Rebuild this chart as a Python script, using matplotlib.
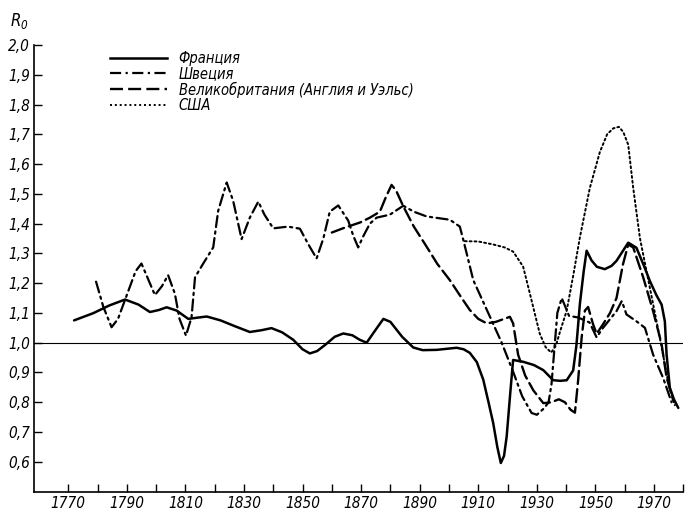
import matplotlib
matplotlib.use("Agg")
import matplotlib.pyplot as plt
from matplotlib.lines import Line2D
from matplotlib.ticker import FixedLocator, FuncFormatter
from matplotlib import font_manager

# Ro values
france_years = [1772, 1778.5, 1784, 1789.4, 1794, 1797.9, 1801, 1803.6, 1807, 1811, 1814, 1817.3,
                1822, 1827, 1832, 1836, 1839.4, 1843, 1846.8, 1850, 1852.5, 1855, 1858, 1861, 1863.9,
                1867, 1869.5, 1871.9, 1874, 1877.6, 1880, 1884, 1887.8, 1891, 1895.8, 1902.6, 1905,
                1907.1, 1909.5, 1911.7, 1913.5, 1915.1, 1916.5, 1917.7, 1918.8, 1919.7, 1921, 1921.9,
                1925.3, 1929, 1932.2, 1935.6, 1938, 1940.2, 1942.4, 1943.5, 1944.7, 1946, 1947, 1948.7,
                1950.5, 1953.2, 1955.5, 1957.2, 1959.5, 1961.2, 1964, 1966.5, 1968.6, 1970.8, 1972.6,
                1973.7, 1974.3, 1975.4, 1976.8, 1978.3]
france_vals = [1.075, 1.099, 1.125, 1.145, 1.128, 1.103, 1.11, 1.119, 1.108, 1.080, 1.084, 1.088,
               1.075, 1.055, 1.036, 1.042, 1.049, 1.035, 1.010, 0.978, 0.964, 0.972, 0.995, 1.02, 1.031,
               1.025, 1.01, 1.000, 1.03, 1.080, 1.07, 1.02, 0.984, 0.975, 0.976, 0.983, 0.978,
               0.966, 0.935, 0.876, 0.80, 0.730, 0.65, 0.596, 0.62, 0.685, 0.84, 0.942,
               0.936, 0.925, 0.908, 0.874, 0.872, 0.874, 0.907, 0.99, 1.131, 1.24, 1.309, 1.276,
               1.255, 1.247, 1.258, 1.275, 1.31, 1.336, 1.319, 1.26, 1.207, 1.16, 1.128,
               1.072, 0.960, 0.849, 0.81, 0.781]

sweden_years = [1779.5, 1782, 1784.8, 1787, 1790, 1793, 1795, 1797, 1799.6, 1802, 1804.1, 1806.4,
                1808, 1810.2, 1812.1, 1813.3, 1816.1, 1819.5, 1821.2, 1824.1, 1826.3, 1829.2, 1832,
                1834.9, 1837, 1840, 1845, 1849.1, 1852, 1854.8, 1857.1, 1859.3, 1862.2, 1865.6,
                1867.3, 1869, 1870.7, 1873, 1875.3, 1879.8, 1884.4, 1888, 1892.4, 1900.3, 1903.7,
                1904.9, 1908.3, 1914, 1918, 1922, 1925, 1928.2, 1930, 1932.5, 1934, 1935, 1936,
                1937, 1938.5, 1941, 1944, 1948, 1950.4, 1952.6, 1957.2, 1959, 1960.6, 1964, 1966.9,
                1969.7, 1973.1, 1976]
sweden_vals = [1.205, 1.12, 1.052, 1.08, 1.16, 1.24, 1.266, 1.22, 1.16, 1.19, 1.227, 1.165,
               1.08, 1.024, 1.085, 1.22, 1.266, 1.32, 1.443, 1.538, 1.477, 1.348, 1.42,
               1.474, 1.43, 1.384, 1.39, 1.383, 1.33, 1.283, 1.35, 1.44, 1.461, 1.41,
               1.36, 1.32, 1.357, 1.40, 1.42, 1.43, 1.46, 1.44, 1.424, 1.413, 1.39,
               1.345, 1.21, 1.087, 1.0, 0.90, 0.82, 0.764, 0.758, 0.78, 0.80, 0.86, 0.98,
               1.10, 1.15, 1.09, 1.085, 1.068, 1.018, 1.05, 1.106, 1.14, 1.095, 1.072, 1.05,
               0.96, 0.882, 0.80]

britain_years = [1860, 1864, 1867, 1869.7, 1873, 1876.4, 1878.5, 1880.4, 1882, 1884.4, 1888, 1892.4,
                 1896, 1900.3, 1904, 1907.1, 1910, 1912.9, 1916, 1920.8, 1921.9, 1923.6, 1926,
                 1928.8, 1932.2, 1935, 1937.5, 1939.6, 1941.5, 1943, 1944.1, 1945.3, 1946.4, 1947.5,
                 1949.2, 1950.4, 1952.6, 1955, 1957.2, 1959.4, 1961.2, 1962.9, 1966.3, 1969.7, 1972.6,
                 1974.3, 1976.6]
britain_vals = [1.37, 1.385, 1.395, 1.404, 1.42, 1.44, 1.49, 1.53, 1.51, 1.458, 1.39, 1.322,
                1.265, 1.21, 1.155, 1.11, 1.08, 1.065, 1.07, 1.087, 1.065, 0.96, 0.89,
                0.84, 0.797, 0.80, 0.81, 0.80, 0.775, 0.765, 0.874, 1.018, 1.108, 1.12,
                1.062, 1.03, 1.062, 1.10, 1.15, 1.263, 1.33, 1.32, 1.22, 1.106, 0.995,
                0.883, 0.805]

usa_years = [1905.4, 1910, 1915.1, 1919, 1921.9, 1925.3, 1927.6, 1931, 1933, 1934.9, 1936.5, 1938,
             1940.2, 1942.5, 1944.7, 1948.1, 1951.5, 1954, 1956.1, 1958, 1959.5, 1961.2, 1962.9,
             1965.2, 1968.6, 1972, 1974.8, 1977.1]
usa_vals = [1.341, 1.34, 1.33, 1.32, 1.306, 1.256, 1.166, 1.03, 0.985, 0.967, 0.99, 1.04,
            1.108, 1.23, 1.354, 1.52, 1.64, 1.70, 1.72, 1.725, 1.708, 1.665, 1.52,
            1.351, 1.184, 1.016, 0.87, 0.79]

labels = ["Франция", "Швеция", "Великобритания (Англия и Уэльс)", "США"]
year_ticks = list(range(1770, 1971, 20))
y_ticks = [0.6, 0.7, 0.8, 0.9, 1.0, 1.1, 1.2, 1.3, 1.4, 1.5, 1.6, 1.7, 1.8, 1.9, 2.0]

# condensed italic face if there is one, plain DejaVu otherwise
names = {f.name for f in font_manager.fontManager.ttflist}
fam = ["DejaVu Sans"]
for cand in ["Liberation Sans Narrow", "DejaVu Sans Condensed"]:
    if cand in names:
        fam = [cand, "DejaVu Sans"]
        break
plt.rcParams["font.family"] = fam
plt.rcParams["font.style"] = "italic"
plt.rcParams["font.stretch"] = "condensed"

fig = plt.figure(figsize=(6.85, 5.11), dpi=100)
ax = fig.add_axes([0.050, 0.038, 0.9475, 0.874])

styles = [
    dict(color="black", lw=1.8, linestyle="-"),
    dict(color="black", lw=1.6, linestyle=(0, (5, 2, 1, 2))),
    dict(color="black", lw=1.7, linestyle=(0, (5.5, 2.2))),
    dict(color="black", lw=1.4, linestyle=(0, (1, 1.5))),
]
series = [(france_years, france_vals), (sweden_years, sweden_vals),
          (britain_years, britain_vals), (usa_years, usa_vals)]
for (xs, ys), st in zip(series, styles):
    ax.plot(xs, ys, solid_capstyle="round", dash_capstyle="round", **st)

ax.axhline(1.0, color="black", lw=0.8)

ax.set_xlim(1758.4, 1980)
ax.set_ylim(0.5, 2.0)
for s in ["top", "right"]:
    ax.spines[s].set_visible(False)
ax.spines["left"].set_linewidth(1.2)
ax.spines["bottom"].set_linewidth(1.2)

ax.set_xticks(year_ticks)
ax.xaxis.set_minor_locator(FixedLocator(list(range(1780, 1981, 20))))
ax.set_yticks(y_ticks)
ax.yaxis.set_major_formatter(FuncFormatter(lambda v, p: f"{v:.1f}".replace(".", ",")))
ax.tick_params(axis="both", which="both", direction="in", length=6, width=1, labelsize=11)
ax.tick_params(axis="x", pad=3)
ax.tick_params(axis="y", pad=3)

fig.text(0.015, 0.958, "$R_0$", fontsize=12, ha="left", va="center")

handles = [Line2D([], [], **st) for st in styles]
ax.legend(handles, labels, loc="upper left", bbox_to_anchor=(0.108, 1.0), frameon=False,
          handlelength=3.9, handletextpad=0.8, labelspacing=0.02, fontsize=10.5, borderaxespad=0)

fig.savefig("out.png", dpi=100)
